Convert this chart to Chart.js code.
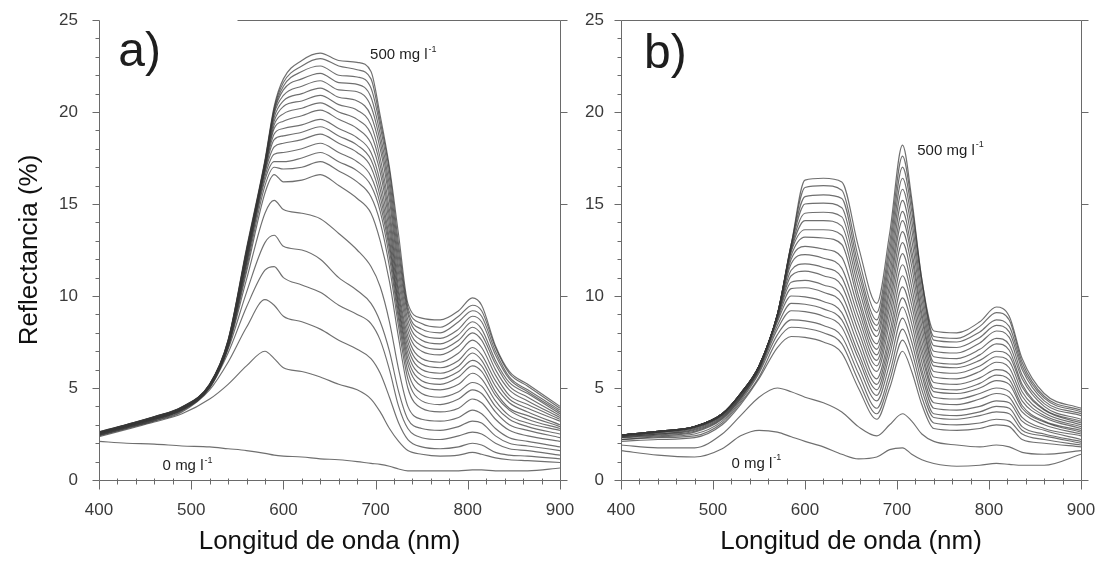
<!DOCTYPE html>
<html>
<head>
<meta charset="utf-8">
<script src="https://cdn.jsdelivr.net/npm/chart.js@4.4.1/dist/chart.umd.min.js"></script>
<style>
  html, body { margin: 0; padding: 0; background: #fff; }
  #wrap { position: relative; width: 1099px; height: 561px; overflow: hidden; background: #fff; }
  canvas { position: absolute; top: 0; }
  #chartA { left: 0; }
  #chartB { left: 580px; }
</style>
</head>
<body>
<div id="wrap">
  <canvas id="chartA" width="580" height="561"></canvas>
  <canvas id="chartB" width="519" height="561"></canvas>
</div>
<script>
// wavelength grids (nm)
const wavesA = [400,430,460,490,520,540,560,580,590,600,620,640,660,680,695,705,715,725,735,750,770,790,805,815,830,845,865,900];
const wavesB = [400,440,480,510,530,550,570,585,600,620,640,658,678,692,706,716,727,740,765,790,808,822,836,860,900];

// panel a) reflectance (%), 0 mg/l first, 500 mg/l last
const a00 = [2.1,2.0,1.95,1.85,1.8,1.7,1.6,1.45,1.35,1.3,1.25,1.15,1.1,1.0,0.9,0.85,0.75,0.6,0.5,0.5,0.5,0.5,0.55,0.55,0.5,0.5,0.5,0.65];
const a01 = [2.35,2.75,3.15,3.6,4.4,5.2,6.2,7.0,6.6,6.1,5.9,5.6,5.2,4.9,4.4,3.7,2.8,2.1,1.6,1.4,1.3,1.35,1.5,1.4,1.2,1.1,1.05,0.95];
const a02 = [2.4,2.8,3.2,3.7,4.9,6.4,8.3,9.8,9.5,8.9,8.6,8.2,7.6,7.1,6.6,5.8,4.5,3.1,2.2,1.8,1.7,1.8,2.0,1.9,1.5,1.35,1.3,1.15];
const a03 = [2.42,2.82,3.22,3.75,5.0,6.9,9.4,11.4,11.6,11.0,10.6,10.2,9.5,9.0,8.5,7.6,6.0,4.0,2.8,2.3,2.2,2.4,2.6,2.5,2.0,1.7,1.6,1.35];
const a04 = [2.45,2.85,3.25,3.8,5.0,7.1,10.2,12.9,13.3,12.7,12.5,12.0,11.0,10.3,9.6,8.6,7.0,4.8,3.3,2.8,2.7,2.9,3.2,3.1,2.4,2.0,1.85,1.6];
const a05 = [2.45,2.85,3.28,3.8,5.05,7.2,10.9,14.5,15.2,14.7,14.5,14.2,13.4,12.5,11.6,10.5,8.6,6.0,4.0,3.3,3.2,3.4,3.8,3.6,2.8,2.3,2.1,1.8];
const a06 = [2.48,2.88,3.3,3.82,5.05,7.2,11.3,15.6,16.6,16.2,16.3,16.6,16.0,15.3,14.5,13.0,10.8,7.7,5.0,3.9,3.7,3.9,4.4,4.2,3.3,2.7,2.4,2.1];
const a07 = [2.5,2.9,3.3,3.84,5.08,7.25,11.5,16.0,17.0,16.9,17.0,17.3,16.8,16.2,15.4,14.0,11.6,8.3,5.5,4.3,4.1,4.4,4.9,4.7,3.7,3.0,2.7,2.3];
const a08 = [2.5,2.9,3.32,3.85,5.1,7.3,11.7,16.3,17.3,17.3,17.5,17.8,17.3,16.8,16.0,14.6,12.1,8.7,5.9,4.7,4.5,4.8,5.3,5.1,4.0,3.3,2.9,2.5];
const a09 = [2.52,2.92,3.34,3.86,5.1,7.3,11.8,16.5,17.7,17.8,18.0,18.3,17.8,17.3,16.5,15.0,12.5,9.0,6.3,5.1,4.9,5.2,5.8,5.5,4.3,3.5,3.1,2.7];
const a10 = [2.52,2.92,3.35,3.88,5.12,7.35,11.9,16.7,18.1,18.3,18.5,18.8,18.3,17.8,17.0,15.4,12.8,9.3,6.6,5.4,5.2,5.6,6.2,5.9,4.6,3.8,3.3,2.8];
const a11 = [2.54,2.94,3.36,3.88,5.12,7.35,12.0,16.8,18.5,18.7,18.9,19.2,18.7,18.2,17.4,15.8,13.1,9.5,6.9,5.7,5.5,5.9,6.5,6.2,4.8,3.9,3.5,2.9];
const a12 = [2.54,2.94,3.36,3.9,5.14,7.4,12.1,16.9,18.8,19.1,19.3,19.6,19.1,18.6,17.8,16.2,13.5,9.8,7.2,6.0,5.8,6.2,6.9,6.5,5.1,4.2,3.7,3.0];
const a13 = [2.55,2.95,3.38,3.9,5.15,7.4,12.2,17.0,19.1,19.5,19.8,20.1,19.6,19.1,18.3,16.7,13.9,10.1,7.5,6.3,6.1,6.5,7.2,6.8,5.4,4.4,3.9,3.2];
const a14 = [2.56,2.96,3.38,3.92,5.15,7.45,12.2,17.0,19.3,19.9,20.2,20.5,20.0,19.6,18.8,17.1,14.3,10.4,7.8,6.6,6.4,6.9,7.6,7.2,5.7,4.6,4.1,3.3];
const a15 = [2.57,2.97,3.4,3.92,5.16,7.45,12.3,17.1,19.5,20.3,20.6,20.9,20.4,20.1,19.3,17.5,14.7,10.8,8.1,7.0,6.8,7.3,8.0,7.6,6.0,4.9,4.3,3.4];
const a16 = [2.58,2.98,3.4,3.94,5.17,7.5,12.3,17.1,19.7,20.6,21.0,21.3,20.8,20.6,19.8,18.0,15.2,11.2,8.4,7.3,7.1,7.6,8.3,7.9,6.3,5.1,4.5,3.5];
const a17 = [2.58,2.98,3.42,3.94,5.18,7.5,12.4,17.2,19.9,20.9,21.4,21.7,21.2,21.1,20.3,18.4,15.6,11.6,8.7,7.6,7.4,7.9,8.6,8.2,6.5,5.3,4.7,3.6];
const a18 = [2.6,3.0,3.42,3.95,5.18,7.55,12.4,17.2,20.0,21.2,21.8,22.1,21.6,21.5,20.8,18.8,16.0,12.0,9.0,7.9,7.7,8.2,8.9,8.6,6.8,5.5,4.8,3.7];
const a19 = [2.6,3.0,3.44,3.96,5.2,7.55,12.5,17.3,20.1,21.4,22.2,22.5,22.0,21.9,21.3,19.2,16.4,12.4,9.2,8.2,8.0,8.6,9.2,8.9,7.0,5.6,4.9,3.8];
const a20 = [2.62,3.02,3.44,3.97,5.2,7.6,12.5,17.3,20.2,21.6,22.5,22.9,22.5,22.3,21.8,19.5,16.8,12.8,9.4,8.5,8.3,8.9,9.5,9.2,7.2,5.8,5.1,3.9];
const a21 = [2.62,3.02,3.45,3.98,5.22,7.6,12.6,17.4,20.3,21.8,22.8,23.2,22.8,22.7,22.2,19.8,17.0,13.3,9.6,8.8,8.7,9.2,9.9,9.5,7.3,5.9,5.2,4.0];

// panel b) reflectance (%), 0 mg/l first, 500 mg/l last
const b00 = [1.6,1.35,1.25,1.7,2.4,2.7,2.6,2.35,2.1,1.8,1.4,1.15,1.25,1.65,1.75,1.4,1.1,0.9,0.75,0.8,0.9,0.85,0.8,0.8,1.4];
const b01 = [1.9,1.75,1.75,2.5,3.5,4.5,5.0,4.8,4.5,4.2,3.7,2.9,2.4,3.0,3.6,3.2,2.5,2.1,1.9,1.8,1.9,1.8,1.5,1.4,1.6];
const b02 = [2.1,2.2,2.3,3.0,4.1,5.5,7.2,7.8,7.75,7.5,6.9,5.0,3.3,5.0,7.0,5.9,4.1,2.8,2.7,2.8,3.0,2.9,2.2,2.0,1.8];
const b03 = [2.2,2.3,2.4,3.1,4.2,5.6,7.6,8.3,8.25,8.0,7.4,5.4,3.6,5.4,7.6,6.5,4.5,3.1,3.0,3.1,3.3,3.2,2.5,2.2,1.9];
const b04 = [2.2,2.35,2.5,3.2,4.3,5.8,7.9,8.7,8.65,8.4,7.8,5.8,3.9,5.8,8.2,7.0,4.9,3.4,3.3,3.5,3.7,3.6,2.7,2.4,2.0];
const b05 = [2.3,2.4,2.6,3.3,4.4,5.9,8.2,9.2,9.15,8.9,8.3,6.2,4.3,6.3,8.8,7.5,5.3,3.6,3.5,3.7,4.0,3.9,2.9,2.5,2.1];
const b06 = [2.3,2.45,2.65,3.35,4.45,6.0,8.4,9.6,9.55,9.3,8.7,6.6,4.6,6.8,9.4,8.0,5.7,3.9,3.8,4.0,4.3,4.2,3.2,2.7,2.2];
const b07 = [2.35,2.5,2.7,3.4,4.5,6.0,8.6,10.0,9.95,9.7,9.1,6.9,4.9,7.2,9.9,8.5,6.0,4.2,4.1,4.4,4.7,4.5,3.4,2.8,2.4];
const b08 = [2.35,2.5,2.75,3.45,4.55,6.05,8.7,10.4,10.45,10.2,9.6,7.3,5.2,7.6,10.5,9.0,6.4,4.5,4.4,4.7,5.0,4.8,3.7,3.0,2.5];
const b09 = [2.4,2.55,2.8,3.5,4.6,6.1,8.8,10.75,10.85,10.6,10.05,7.7,5.5,8.0,11.1,9.5,6.8,4.8,4.7,5.0,5.4,5.2,3.9,3.15,2.6];
const b10 = [2.4,2.6,2.85,3.55,4.65,6.15,8.85,11.1,11.35,11.1,10.55,8.1,5.9,8.5,11.7,10.0,7.15,5.0,4.9,5.25,5.7,5.45,4.05,3.2,2.7];
const b11 = [2.4,2.6,2.85,3.55,4.65,6.15,8.9,11.4,11.75,11.55,11.0,8.5,6.2,8.95,12.3,10.5,7.55,5.3,5.2,5.55,6.0,5.75,4.3,3.4,2.8];
const b12 = [2.4,2.6,2.85,3.55,4.65,6.15,8.9,11.75,12.25,12.05,11.5,8.9,6.5,9.4,12.9,11.05,7.95,5.6,5.5,5.9,6.4,6.1,4.55,3.5,2.9];
const b13 = [2.45,2.6,2.9,3.6,4.7,6.2,8.95,12.0,12.7,12.55,12.1,9.3,6.8,9.8,13.5,11.6,8.35,5.9,5.8,6.2,6.7,6.45,4.8,3.65,3.0];
const b14 = [2.45,2.6,2.9,3.6,4.7,6.2,9.0,12.2,13.2,13.15,12.8,9.7,7.1,10.25,14.1,12.1,8.75,6.2,6.1,6.5,7.0,6.75,5.05,3.8,3.1];
const b15 = [2.45,2.65,2.9,3.6,4.7,6.2,9.0,12.4,13.6,13.6,13.3,10.05,7.4,10.65,14.6,12.5,9.05,6.4,6.3,6.8,7.4,7.05,5.2,3.85,3.2];
const b16 = [2.45,2.65,2.9,3.6,4.7,6.2,9.0,12.5,14.1,14.1,13.8,10.5,7.8,11.1,15.2,13.05,9.45,6.7,6.6,7.1,7.7,7.35,5.5,4.0,3.3];
const b17 = [2.45,2.65,2.9,3.6,4.7,6.2,9.0,12.6,14.5,14.55,14.3,10.9,8.1,11.55,15.8,13.6,9.85,7.0,6.9,7.45,8.1,7.75,5.7,4.15,3.5];
const b18 = [2.45,2.65,2.9,3.6,4.7,6.2,9.0,12.7,15.0,15.05,14.8,11.3,8.4,12.0,16.4,14.1,10.25,7.3,7.2,7.75,8.4,8.05,6.0,4.3,3.6];
const b19 = [2.45,2.65,2.9,3.6,4.7,6.2,9.0,12.8,15.4,15.5,15.3,11.65,8.7,12.45,17.0,14.6,10.65,7.6,7.5,8.05,8.7,8.35,6.2,4.45,3.7];
const b20 = [2.45,2.65,2.9,3.6,4.7,6.2,9.0,12.8,15.9,16.0,15.75,12.1,9.1,12.9,17.6,15.0,10.9,7.8,7.7,8.35,9.1,8.7,6.4,4.55,3.8];
const b21 = [2.45,2.65,2.9,3.6,4.7,6.2,9.0,12.8,16.3,16.4,16.2,12.7,9.6,13.4,18.2,15.3,10.9,8.1,8.0,8.6,9.4,8.9,6.6,4.7,3.9];

const seriesA = [a00,a01,a02,a03,a04,a05,a06,a07,a08,a09,a10,a11,a12,a13,a14,a15,a16,a17,a18,a19,a20,a21];
const seriesB = [b00,b01,b02,b03,b04,b05,b06,b07,b08,b09,b10,b11,b12,b13,b14,b15,b16,b17,b18,b19,b20,b21];

// texts
const xTitle = 'Longitud de onda (nm)';
const yTitle = 'Reflectancia (%)';
const panelTags = ['a)', 'b)'];
const highLabel = '500 mg l';
const lowLabel = '0 mg l';
const unitSup = '-1';

const FONT = '"Liberation Sans", Arial, sans-serif';

// box, ticks and minor ticks drawn by hand (Chart.js has no minor ticks)
const framePlugin = {
  id: 'frame',
  afterDraw(chart, args, o) {
    const { ctx, chartArea: a, scales: { x, y } } = chart;
    const L = Math.round(a.left) + 0.5, R = Math.round(a.right) + 0.5;
    const T = Math.round(a.top) + 0.5, B = Math.round(a.bottom) + 0.5;
    ctx.save();
    ctx.strokeStyle = '#6a6a6a';
    ctx.lineWidth = 1;
    ctx.beginPath();
    ctx.moveTo(L, T); ctx.lineTo(L, B); ctx.lineTo(R, B); ctx.lineTo(R, T);
    ctx.moveTo(Math.round(x.getPixelForValue(o.topFrom)) + 0.5, T); ctx.lineTo(R, T);
    for (let v = 400; v <= 900; v += 20) {
      const px = Math.round(x.getPixelForValue(v)) + 0.5;
      const major = v % 100 === 0;
      ctx.moveTo(px, B - (major ? 0 : 2)); ctx.lineTo(px, B + (major ? 9 : 4));
    }
    for (let v = 0; v <= 25; v += 1) {
      const py = Math.round(y.getPixelForValue(v)) + 0.5;
      const major = v % 5 === 0;
      ctx.moveTo(L - (major ? 7 : 4), py); ctx.lineTo(L, py);
      if (major) { ctx.moveTo(R, py); ctx.lineTo(R + 7, py); }
    }
    ctx.stroke();
    ctx.restore();
  }
};

const notesPlugin = {
  id: 'notes',
  afterDatasetsDraw(chart, args, o) {
    const { ctx, scales: { x, y } } = chart;
    ctx.save();
    ctx.textBaseline = 'middle';
    ctx.textAlign = 'left';
    ctx.fillStyle = '#1e1e1e';
    o.items.forEach(n => {
      const px = x.getPixelForValue(n.x), py = y.getPixelForValue(n.y);
      ctx.font = n.size + 'px ' + FONT;
      ctx.fillText(n.text, px, py);
      if (n.sup) {
        const w = ctx.measureText(n.text).width;
        ctx.font = Math.round(n.size * 0.62) + 'px ' + FONT;
        ctx.fillText(n.sup, px + w + 1, py - n.size * 0.38);
      }
    });
    ctx.restore();
  }
};

function makeChart(id, waves, series, opt) {
  return new Chart(document.getElementById(id), {
    type: 'line',
    data: {
      datasets: series.map(vals => ({
        data: waves.map((w, j) => ({ x: w, y: vals[j] })),
        borderColor: 'rgba(55,55,55,0.72)',
        borderWidth: 1.15,
        pointRadius: 0,
        cubicInterpolationMode: 'monotone',
        fill: false
      }))
    },
    options: {
      responsive: false,
      animation: false,
      events: [],
      layout: { padding: { left: 0, right: opt.padRight, top: 20, bottom: 0 } },
      plugins: {
        legend: { display: false },
        tooltip: { enabled: false },
        frame: { topFrom: opt.topFrom },
        notes: { items: opt.notes }
      },
      scales: {
        x: {
          type: 'linear', min: 400, max: 900,
          grid: { display: false, drawTicks: false },
          border: { display: false },
          ticks: { stepSize: 100, padding: 20, maxRotation: 0, color: '#3a3a3a', font: { family: FONT, size: 17 } },
          title: { display: true, text: xTitle, color: '#111', font: { family: FONT, size: 26 }, padding: { top: 0, bottom: 4 } },
          afterFit: s => { s.height = 81; s.paddingLeft = 0; s.paddingRight = 0; }
        },
        y: {
          type: 'linear', min: 0, max: 25,
          grid: { display: false, drawTicks: false },
          border: { display: false },
          ticks: { stepSize: 5, padding: opt.yPad, color: '#3a3a3a', font: { family: FONT, size: 17 } },
          title: { display: opt.showYTitle, text: yTitle, color: '#111', font: { family: FONT, size: 26 }, padding: { top: 14, bottom: 0 } },
          afterFit: s => { s.width = opt.yWidth; s.paddingTop = 0; s.paddingBottom = 0; }
        }
      }
    },
    plugins: [framePlugin, notesPlugin]
  });
}

makeChart('chartA', wavesA, seriesA, {
  padRight: 20, yWidth: 99, yPad: 21, showYTitle: true, topFrom: 550,
  notes: [
    { text: panelTags[0], x: 421, y: 23.2, size: 48 },
    { text: highLabel, sup: unitSup, x: 694, y: 23.1, size: 15 },
    { text: lowLabel, sup: unitSup, x: 469, y: 0.75, size: 15 }
  ]
});

makeChart('chartB', wavesB, seriesB, {
  padRight: 18, yWidth: 41, yPad: 17, showYTitle: false, topFrom: 400,
  notes: [
    { text: panelTags[1], x: 425, y: 23.1, size: 48 },
    { text: highLabel, sup: unitSup, x: 722, y: 17.9, size: 15 },
    { text: lowLabel, sup: unitSup, x: 520, y: 0.9, size: 15 }
  ]
});
</script>
</body>
</html>
